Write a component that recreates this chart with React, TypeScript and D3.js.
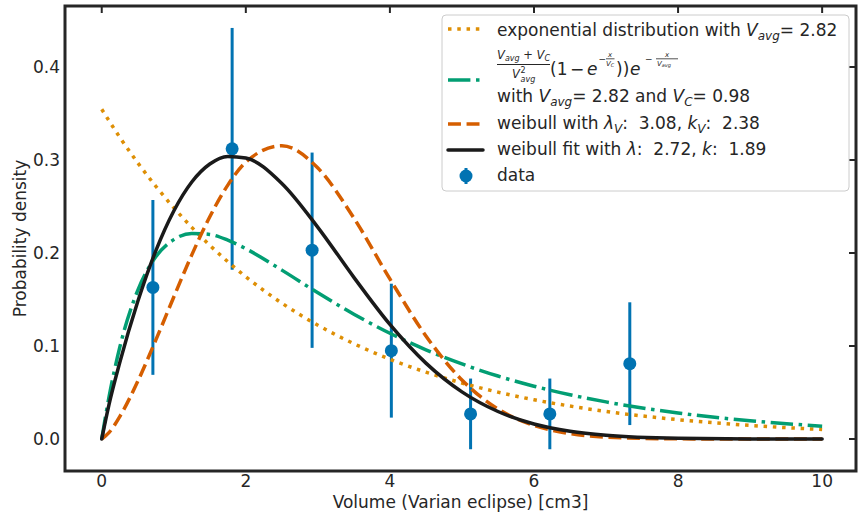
import React from 'react';
import * as d3 from 'd3';

const curveX = [0, 0.1, 0.25, 0.5, 0.75, 1, 1.25, 1.5, 1.75, 2, 2.5, 3, 3.5, 4, 4.5, 5, 5.5, 6, 6.5, 7, 8, 9, 10];
const expY = [0.3546, 0.3423, 0.3245, 0.297, 0.2718, 0.2487, 0.2276, 0.2083, 0.1907, 0.1745, 0.1461, 0.1224, 0.1025, 0.0858, 0.0719, 0.0602, 0.0504, 0.0422, 0.0354, 0.0296, 0.0208, 0.0146, 0.0102];
const combY = [0, 0.0448, 0.0985, 0.1599, 0.1959, 0.2144, 0.2211, 0.22, 0.2138, 0.2046, 0.1816, 0.1572, 0.1342, 0.1137, 0.0959, 0.0807, 0.0677, 0.0568, 0.0476, 0.0399, 0.028, 0.0196, 0.0138];
const weibullVY = [0, 0.0068, 0.0241, 0.062, 0.1063, 0.1527, 0.198, 0.239, 0.273, 0.2977, 0.3153, 0.2913, 0.2376, 0.1721, 0.1108, 0.0635, 0.0323, 0.0146, 0.0058, 0.0021, 0.0002, 0.0, 0.0];
const weibullFitY = [0, 0.0367, 0.0821, 0.1478, 0.2023, 0.2452, 0.2764, 0.2957, 0.3039, 0.3021, 0.2748, 0.2276, 0.1738, 0.1232, 0.0816, 0.0507, 0.0296, 0.0162, 0.0084, 0.0041, 0.0008, 0.0001, 0.0];

// histogram data with error bars
const dataX = [0.71, 1.81, 2.92, 4.02, 5.12, 6.22, 7.33];
const dataY = [0.163, 0.312, 0.203, 0.095, 0.027, 0.027, 0.081];
const dataErr = [0.094, 0.13, 0.105, 0.072, 0.038, 0.038, 0.066];

const xTicks = [0, 2, 4, 6, 8, 10];
const yTicks = [0, 0.1, 0.2, 0.3, 0.4];
const xDomain = [-0.51, 10.47];
const yDomain = [-0.0344, 0.4656];

const W = 858, H = 520;
const L = 65, R = 856, T = 6, B = 471;
const TXT = '#262626';
const FONT = "'DejaVu Sans', sans-serif";
const LW = 3.5;

const C_BLUE = '#0173b2';
const C_EXP = '#de8f05';
const C_GREEN = '#029e73';
const C_WEI = '#d55e00';
const C_BLACK = '#1a1a1a';

const DOT = `${LW},${LW * 1.65}`;
const DASH = `${LW * 3.7},${LW * 1.6}`;
const DASHDOT = `${LW * 6.4},${LW * 1.6},${LW},${LW * 1.6}`;
const SP2 = '\u00a0 ';

export default function App() {
  const x = d3.scaleLinear().domain(xDomain).range([L, R]);
  const y = d3.scaleLinear().domain(yDomain).range([B, T]);
  const mk = (ys: number[]) =>
    d3.line<number>().x((_, i) => x(curveX[i])).y((d) => y(d)).curve(d3.curveMonotoneX)(ys) as string;

  const curves = [
    { ys: expY, color: C_EXP, dash: DOT },
    { ys: combY, color: C_GREEN, dash: DASHDOT },
    { ys: weibullVY, color: C_WEI, dash: DASH },
    { ys: weibullFitY, color: C_BLACK, dash: undefined },
  ];

  const lx = 497;
  const it = { fontStyle: 'italic' as const };

  return (
    <svg width={W} height={H} style={{ position: 'absolute', left: 0, top: 0, background: '#fff' }} fontFamily={FONT}>
      <rect x={0} y={0} width={W} height={H} fill="#fff" />
      {/* data with error bars */}
      <g>
        {dataX.map((dx, i) => (
          <g key={i}>
            <line x1={x(dx)} x2={x(dx)} y1={y(dataY[i] - dataErr[i])} y2={y(dataY[i] + dataErr[i])} stroke={C_BLUE} strokeWidth={3} />
            <circle cx={x(dx)} cy={y(dataY[i])} r={6.5} fill={C_BLUE} />
          </g>
        ))}
      </g>
      {/* curves */}
      {curves.map((c, i) => (
        <path key={i} d={mk(c.ys)} fill="none" stroke={c.color} strokeWidth={LW} strokeDasharray={c.dash} strokeLinecap={c.dash ? 'butt' : 'round'} strokeLinejoin="round" />
      ))}
      {/* frame */}
      <rect x={L} y={T} width={R - L} height={B - T} fill="none" stroke={TXT} strokeWidth={3} />
      {/* ticks (top & right, inward) */}
      {xTicks.map((t) => (
        <g key={'x' + t}>
          <line x1={x(t)} x2={x(t)} y1={T} y2={T + 7} stroke={TXT} strokeWidth={2} />
          <text x={x(t)} y={487} fontSize={17} fill={TXT} textAnchor="middle">{t}</text>
        </g>
      ))}
      {yTicks.map((t) => (
        <g key={'y' + t}>
          <line x1={R - 7} x2={R} y1={y(t)} y2={y(t)} stroke={TXT} strokeWidth={2} />
          <text x={60} y={y(t)} fontSize={17} fill={TXT} textAnchor="end" dominantBaseline="central">{t.toFixed(1)}</text>
        </g>
      ))}
      {/* axis labels */}
      <text x={(L + R) / 2} y={508} fontSize={17} fill={TXT} textAnchor="middle">Volume (Varian eclipse) [cm3]</text>
      <text transform={`translate(26,${(T + B) / 2}) rotate(-90)`} fontSize={17} fill={TXT} textAnchor="middle">Probability density</text>

      {/* legend */}
      <g fill={TXT}>
        <rect x={442} y={15} width={407} height={176} rx={4} fill="#fff" fillOpacity={0.8} stroke="#cccccc" strokeWidth={1} />
        {/* handles */}
        <line x1={448} x2={483} y1={29} y2={29} stroke={C_EXP} strokeWidth={LW} strokeDasharray={DOT} />
        <line x1={448} x2={483} y1={80} y2={80} stroke={C_GREEN} strokeWidth={LW} strokeDasharray={DASHDOT} />
        <line x1={448} x2={483} y1={124} y2={124} stroke={C_WEI} strokeWidth={LW} strokeDasharray={DASH} />
        <line x1={448} x2={483} y1={150} y2={150} stroke={C_BLACK} strokeWidth={LW} strokeLinecap="round" />
        <line x1={466} x2={466} y1={168} y2={184} stroke={C_BLUE} strokeWidth={3} />
        <circle cx={466} cy={176} r={6.5} fill={C_BLUE} />

        {/* row 1 */}
        <text x={lx} y={35.5} fontSize={17}>
          exponential distribution with <tspan {...it}>V</tspan>
          <tspan {...it} fontSize={12} dy={4}>avg</tspan>
          <tspan dy={-4}>= 2.82</tspan>
        </text>

        {/* row 2: formula */}
        <text x={lx} y={58.5} fontSize={11.5}>
          <tspan {...it}>V</tspan>
          <tspan {...it} fontSize={8} dy={2.5}>avg</tspan>
          <tspan dy={-2.5}> + </tspan>
          <tspan {...it}>V</tspan>
          <tspan {...it} fontSize={8} dy={2.5}>C</tspan>
        </text>
        <line x1={497} x2={550} y1={64.5} y2={64.5} stroke={TXT} strokeWidth={1} />
        <text x={512} y={77.5} fontSize={11.5} {...it}>V</text>
        <text x={520.5} y={72.5} fontSize={8}>2</text>
        <text x={520.5} y={81.5} fontSize={8} {...it}>avg</text>
        <text x={550} y={75} fontSize={17}>(1</text>
        <text x={570} y={75} fontSize={17}>−</text>
        <text x={587} y={75} fontSize={17} {...it}>e</text>
        <text x={598.5} y={61.5} fontSize={9}>−</text>
        <text x={610} y={56.5} fontSize={7} {...it} textAnchor="middle">x</text>
        <line x1={606} x2={614.5} y1={58.8} y2={58.8} stroke={TXT} strokeWidth={0.8} />
        <text x={606} y={65.5} fontSize={7} {...it}>V<tspan fontSize={5} dy={1.5}>C</tspan></text>
        <text x={616} y={75} fontSize={17}>))</text>
        <text x={630} y={75} fontSize={17} {...it}>e</text>
        <text x={645} y={61.5} fontSize={9}>−</text>
        <text x={667} y={56.5} fontSize={7} {...it} textAnchor="middle">x</text>
        <line x1={656} x2={678} y1={58.8} y2={58.8} stroke={TXT} strokeWidth={0.8} />
        <text x={657} y={65.5} fontSize={7} {...it}>V<tspan fontSize={5} dy={1.5}>avg</tspan></text>

        <text x={lx} y={101.5} fontSize={17}>
          with <tspan {...it}>V</tspan>
          <tspan {...it} fontSize={12} dy={4}>avg</tspan>
          <tspan dy={-4}>= 2.82 and </tspan>
          <tspan {...it}>V</tspan>
          <tspan {...it} fontSize={12} dy={4}>C</tspan>
          <tspan dy={-4}>= 0.98</tspan>
        </text>

        {/* row 3 */}
        <text x={lx} y={129} fontSize={17}>
          weibull with <tspan {...it}>λ</tspan>
          <tspan {...it} fontSize={12} dy={4}>V</tspan>
          <tspan dy={-4}>{':' + SP2 + '3.08, '}</tspan>
          <tspan {...it}>k</tspan>
          <tspan {...it} fontSize={12} dy={4}>V</tspan>
          <tspan dy={-4}>{':' + SP2 + '2.38'}</tspan>
        </text>
        {/* row 4 */}
        <text x={lx} y={155} fontSize={17}>
          weibull fit with <tspan {...it}>λ</tspan>
          <tspan>{':' + SP2 + '2.72, '}</tspan>
          <tspan {...it}>k</tspan>
          <tspan>{':' + SP2 + '1.89'}</tspan>
        </text>
        {/* row 5 */}
        <text x={lx} y={181} fontSize={17}>data</text>
      </g>
    </svg>
  );
}
